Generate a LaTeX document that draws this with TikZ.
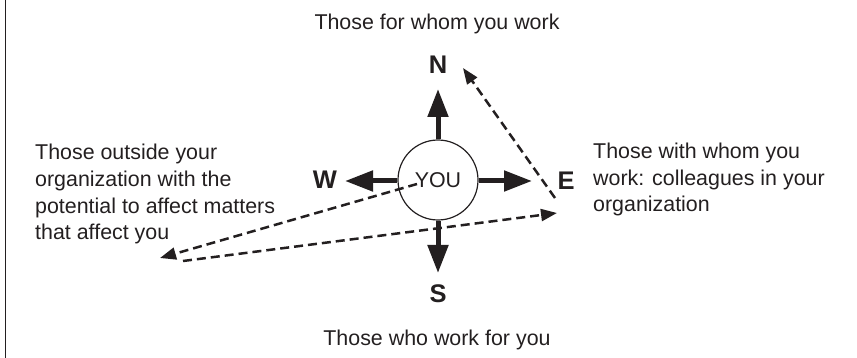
\documentclass[tikz,border=0pt]{standalone}
\usepackage{fontspec}
\setmainfont{Liberation Sans}
\usetikzlibrary{arrows.meta}
\definecolor{ink}{HTML}{231F20}
\begin{document}
\begin{tikzpicture}[x=1pt,y=-1pt,
  txt/.style={inner sep=0pt, text=ink, font=\fontsize{21.4}{26.7}\selectfont},
  dirlabel/.style={inner sep=0pt, text=ink, font=\fontsize{25.5}{28}\selectfont\bfseries},
  bigarrow/.style={draw=ink, line width=5pt, -{Triangle[length=28pt,width=20pt]}},
  dasharrow/.style={draw=ink, line width=2.5pt, dash pattern=on 9pt off 5pt, -{Triangle[length=16pt,width=12pt]}}]
\useasboundingbox (0,0) rectangle (857,358);
\draw[ink, line width=1.5pt] (5.5,0) -- (5.5,358);

\node[circle, draw=ink, line width=1.2pt, minimum size=80pt, inner sep=0pt, txt] (you) at (438,180) {YOU};

\node[txt, anchor=base] (top) at (437,30) {Those for whom you work};
\node[txt, anchor=base] (bottom) at (437,345) {Those who work for you};
\node[txt, anchor=base west, align=left] (left) at (35,240) {Those outside your\\organization with the\\potential to affect matters\\that affect you};
\node[txt, anchor=base west, align=left] (right) at (593,212) {Those with whom you\\work: colleagues in your\\organization};

\node[dirlabel, anchor=base] (nl) at (438,74) {N};
\node[dirlabel, anchor=base] (wl) at (325,189) {W};
\node[dirlabel, anchor=base] (el) at (566,190) {E};
\node[dirlabel, anchor=base] (sl) at (438,302) {S};

\coordinate (ntip) at (438,89);
\coordinate (wtip) at (345,181);
\coordinate (etip) at (532,181);
\coordinate (stip) at (438,273);
\draw[bigarrow] (you.north) -- (ntip);
\draw[bigarrow] (you.west |- wtip) -- (wtip);
\draw[bigarrow] (you.east |- etip) -- (etip);
\draw[bigarrow] (you.south) -- (stip);

\coordinate (d1s) at (555,198);
\coordinate (d1e) at (463,68);
\coordinate (d2s) at (417,184);
\coordinate (d2e) at (160,258);
\coordinate (d3s) at (183,261);
\coordinate (d3e) at (557,213);
\draw[dasharrow] (d1s) -- (d1e);
\draw[dasharrow] (d2s) -- (d2e);
\draw[dasharrow] (d3s) -- (d3e);
\end{tikzpicture}
\end{document}
